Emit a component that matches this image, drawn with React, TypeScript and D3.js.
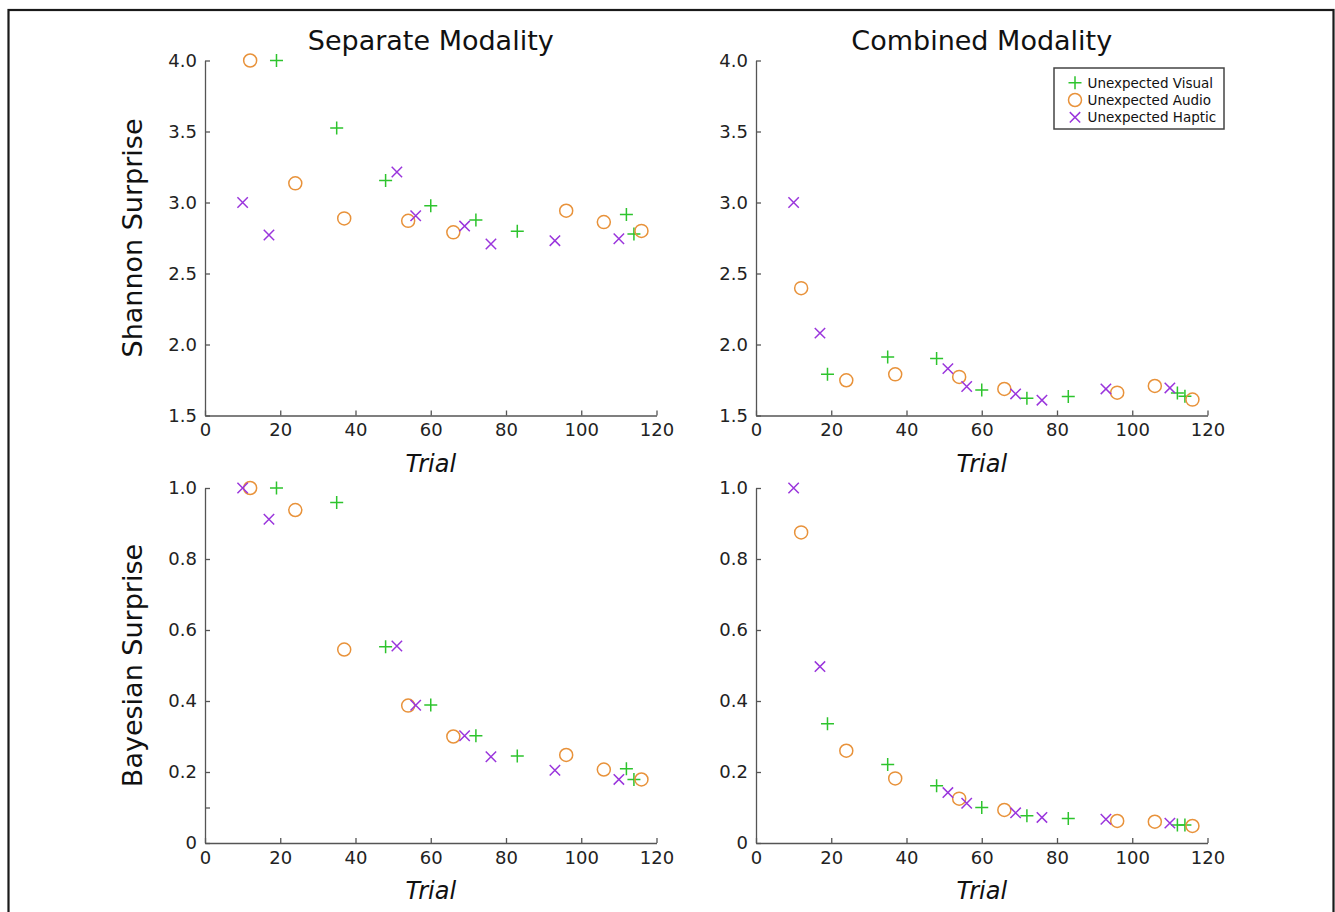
import React, { useEffect, useRef } from "react";
import * as d3 from "d3";

// trial numbers where each unexpected stimulus happened
const trialsVisual = [19, 35, 48, 60, 72, 83, 112, 114];
const trialsAudio = [12, 24, 37, 54, 66, 96, 106, 116];
const trialsHaptic = [10, 17, 51, 56, 69, 76, 93, 110];

// Shannon surprise, separate modality
const shannonSepVisual = [4.0, 3.525, 3.155, 2.977, 2.876, 2.797, 2.916, 2.778];
const shannonSepAudio = [4.0, 3.135, 2.888, 2.871, 2.79, 2.942, 2.862, 2.8];
const shannonSepHaptic = [3.0, 2.771, 3.215, 2.907, 2.834, 2.708, 2.731, 2.745];

// Shannon surprise, combined modality
const shannonCombVisual = [1.79, 1.912, 1.902, 1.68, 1.622, 1.633, 1.659, 1.636];
const shannonCombAudio = [2.397, 1.748, 1.79, 1.772, 1.687, 1.661, 1.708, 1.612];
const shannonCombHaptic = [3.0, 2.08, 1.83, 1.704, 1.652, 1.608, 1.687, 1.694];

// Bayesian surprise, separate modality
const bayesSepVisual = [1.0, 0.959, 0.553, 0.389, 0.302, 0.245, 0.209, 0.179];
const bayesSepAudio = [1.0, 0.938, 0.545, 0.387, 0.3, 0.248, 0.207, 0.179];
const bayesSepHaptic = [1.0, 0.912, 0.555, 0.388, 0.302, 0.243, 0.205, 0.179];

// Bayesian surprise, combined modality
const bayesCombVisual = [0.336, 0.221, 0.161, 0.1, 0.077, 0.069, 0.051, 0.051];
const bayesCombAudio = [0.875, 0.26, 0.182, 0.125, 0.093, 0.062, 0.06, 0.048];
const bayesCombHaptic = [1.0, 0.497, 0.142, 0.112, 0.085, 0.072, 0.067, 0.056];

const seriesNames = ["Unexpected Visual", "Unexpected Audio", "Unexpected Haptic"];
const xTicks = [0, 20, 40, 60, 80, 100, 120];
const shannonTicks = [1.5, 2.0, 2.5, 3.0, 3.5, 4.0];
const bayesTicks = [0, 0.2, 0.4, 0.6, 0.8, 1.0];
const bayesTicksExtra = [0, 0.1, 0.2, 0.4, 0.6, 0.8, 1.0];

const FONT = "'DejaVu Sans', Verdana, sans-serif";
const colors = ["#2dc42d", "#e8923a", "#9a35dc"];
const shapes = ["plus", "circle", "cross"];
const trials = [trialsVisual, trialsAudio, trialsHaptic];

function App() {
  const ref = useRef(null);

  useEffect(() => {
    const svg = d3.select(ref.current);
    svg.selectAll("*").remove();

    // outer frame (bottom edge falls off the page)
    svg.append("rect").attr("x", 8.5).attr("y", 10).attr("width", 1325).attr("height", 930)
      .attr("fill", "none").attr("stroke", "#1a1a1a").attr("stroke-width", 2.2);

    const pw = 451.5, ph = 355;
    const panels = [
      { x0: 205, y0: 60.5, dom: [1.5, 4], ticks: shannonTicks, fmt: (d) => d.toFixed(1), title: "Separate Modality", ylabel: "Shannon Surprise", vals: [shannonSepVisual, shannonSepAudio, shannonSepHaptic] },
      { x0: 756, y0: 60.5, dom: [1.5, 4], ticks: shannonTicks, fmt: (d) => d.toFixed(1), title: "Combined Modality", vals: [shannonCombVisual, shannonCombAudio, shannonCombHaptic], legend: true },
      { x0: 205, y0: 488, dom: [0, 1], ticks: bayesTicksExtra, fmt: (d) => (d === 0 ? "0" : d === 0.1 ? "" : d.toFixed(1)), ylabel: "Bayesian Surprise", vals: [bayesSepVisual, bayesSepAudio, bayesSepHaptic] },
      { x0: 756, y0: 488, dom: [0, 1], ticks: bayesTicks, fmt: (d) => (d === 0 ? "0" : d.toFixed(1)), vals: [bayesCombVisual, bayesCombAudio, bayesCombHaptic] },
    ];

    const drawMarker = (g, shape, color, cx, cy) => {
      if (shape === "circle") {
        g.append("circle").attr("cx", cx).attr("cy", cy).attr("r", 6.5)
          .attr("fill", "none").attr("stroke", color).attr("stroke-width", 1.5);
      } else if (shape === "plus") {
        const s = 6.5;
        g.append("path").attr("d", `M${cx - s},${cy}H${cx + s}M${cx},${cy - s}V${cy + s}`)
          .attr("stroke", color).attr("stroke-width", 1.5).attr("fill", "none");
      } else {
        const s = 5.2;
        g.append("path").attr("d", `M${cx - s},${cy - s}L${cx + s},${cy + s}M${cx - s},${cy + s}L${cx + s},${cy - s}`)
          .attr("stroke", color).attr("stroke-width", 1.5).attr("fill", "none");
      }
    };

    panels.forEach((p) => {
      const g = svg.append("g").attr("transform", `translate(${p.x0},${p.y0})`);
      const x = d3.scaleLinear().domain([0, 120]).range([0, pw]);
      const y = d3.scaleLinear().domain(p.dom).range([ph, 0]);

      const xAxis = g.append("g").attr("transform", `translate(0,${ph})`)
        .call(d3.axisBottom(x).tickValues(xTicks).tickSizeInner(-5).tickSizeOuter(0).tickPadding(8).tickFormat(d3.format("d")));
      const yAxis = g.append("g")
        .call(d3.axisLeft(y).tickValues(p.ticks).tickSizeInner(-5).tickSizeOuter(0).tickPadding(8).tickFormat(p.fmt));
      [xAxis, yAxis].forEach((a) => {
        a.selectAll("path, line").attr("stroke", "#555").attr("stroke-width", 1.3);
        a.selectAll("text").attr("font-family", FONT).attr("font-size", 18).attr("fill", "#222");
      });

      g.append("text").attr("x", pw / 2).attr("y", ph + 56).attr("text-anchor", "middle")
        .attr("font-family", FONT).attr("font-size", 24).attr("font-style", "italic").attr("fill", "#111").text("Trial");

      if (p.title) {
        g.append("text").attr("x", pw / 2).attr("y", -10.5).attr("text-anchor", "middle")
          .attr("font-family", FONT).attr("font-size", 27).attr("fill", "#111").text(p.title);
      }
      if (p.ylabel) {
        g.append("text").attr("transform", `translate(${142 - p.x0},${ph / 2}) rotate(-90)`)
          .attr("text-anchor", "middle").attr("font-family", FONT).attr("font-size", 27).attr("fill", "#111").text(p.ylabel);
      }

      p.vals.forEach((vs, si) => {
        vs.forEach((v, i) => drawMarker(g, shapes[si], colors[si], x(trials[si][i]), y(v)));
      });

      if (p.legend) {
        const lg = g.append("g").attr("transform", `translate(${1054 - p.x0},${68 - p.y0})`);
        lg.append("rect").attr("width", 170).attr("height", 61).attr("fill", "#fff")
          .attr("stroke", "#444").attr("stroke-width", 1.5);
        seriesNames.forEach((name, i) => {
          const cy = 14.7 + i * 17.3;
          drawMarker(lg, shapes[i], colors[i], 21, cy);
          lg.append("text").attr("x", 33.5).attr("y", cy).attr("dy", "0.36em")
            .attr("font-family", FONT).attr("font-size", 13.5).attr("fill", "#111").text(name);
        });
      }
    });
  }, []);

  return (
    <svg ref={ref} width={1335} height={912} style={{ position: "absolute", left: 0, top: 0, background: "#fff" }} />
  );
}

export default App;
